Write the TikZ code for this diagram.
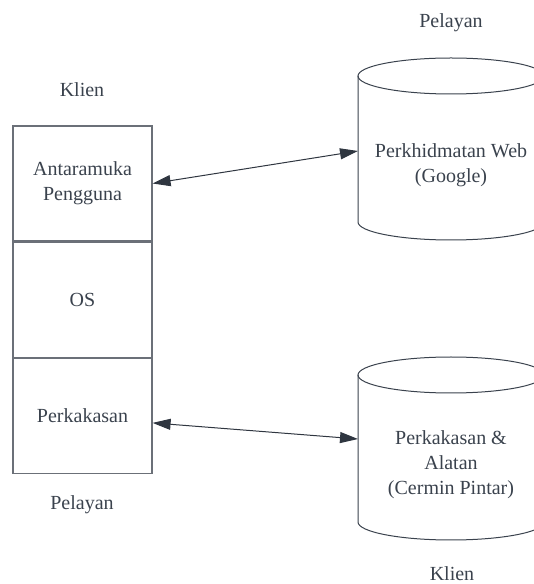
\documentclass[tikz,border=0pt]{standalone}
\usepackage{fontspec}
\setmainfont{Liberation Serif}
\usepackage{tikz}
\usetikzlibrary{positioning,arrows.meta}
\definecolor{boxgrey}{HTML}{6B7078}
\definecolor{inkgrey}{HTML}{3A424D}
\definecolor{arrowgrey}{HTML}{2F3640}
\tikzstyle{layer}=[rectangle,draw=boxgrey,line width=1.2pt,
                   minimum width=139pt,minimum height=115pt,
                   inner sep=0pt,align=center,text=inkgrey,
                   font=\fontsize{20}{25}\selectfont]
\tikzstyle{caption}=[text=inkgrey,inner sep=0pt,anchor=base,
                     font=\fontsize{20}{25}\selectfont]
\tikzstyle{drumtext}=[text=inkgrey,inner sep=0pt,align=center,
                      font=\fontsize{20}{25}\selectfont]
\tikzstyle{drum}=[draw=inkgrey,line width=1pt]
\tikzstyle{link}=[draw=arrowgrey,line width=1pt,<->,
                  >={Triangle[length=18pt,width=11pt]}]

\begin{document}
\begin{tikzpicture}[x=1pt,y=1pt]
    \useasboundingbox (0,0) rectangle (534,584);
    \newcommand{\cylrx}{93}
    \newcommand{\cylry}{18}
    % left stack
    \node (ui) at (82.5,400.5) [layer] {Antaramuka\\Pengguna};
    \node (os) [layer,below=0pt of ui] {OS};
    \node (hw) [layer,below=0pt of os] {Perkakasan};
    \node (klienA) at (82,487) [caption] {Klien};
    \node (pelayanA) at (82,74) [caption] {Pelayan};
    % drums
    \draw[drum] (358,508) -- (358,362)
        arc[start angle=180,end angle=360,x radius=\cylrx,y radius=\cylry] -- (544,508);
    \draw[drum] (451,508) ellipse [x radius=\cylrx,y radius=\cylry];
    \draw[drum] (358,209) -- (358,62)
        arc[start angle=180,end angle=360,x radius=\cylrx,y radius=\cylry] -- (544,209);
    \draw[drum] (451,209) ellipse [x radius=\cylrx,y radius=\cylry];
    \node (web) at (451,419) [drumtext] {Perkhidmatan Web\\(Google)};
    \node (mirror) at (451,119) [drumtext] {Perkakasan \&\\Alatan\\(Cermin Pintar)};
    \node (pelayanB) at (451,556) [caption] {Pelayan};
    \node (klienB) at (452,4) [caption] {Klien};
    \coordinate (webL) at (358,433);
    \coordinate (mirrorL) at (358,145);
    % links
    \draw[link] (ui.east) -- (webL);
    \draw[link] ([yshift=-7pt]hw.east) -- (mirrorL);
\end{tikzpicture}
\end{document}
